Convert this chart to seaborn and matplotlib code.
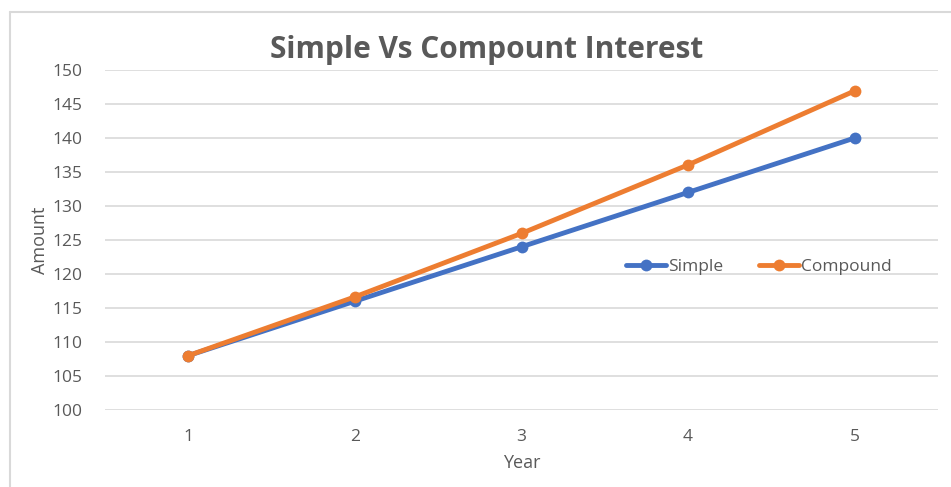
import matplotlib
matplotlib.use("Agg")
import matplotlib.pyplot as plt
import seaborn as sns
import pandas as pd
from matplotlib.lines import Line2D

years = [1, 2, 3, 4, 5]
simple = [108, 116, 124, 132, 140]
compound = [108, 116.64, 125.97, 136.05, 146.93]
series_names = ["Simple", "Compound"]
colors = ["#4472C4", "#ED7D31"]
yticks = [100, 105, 110, 115, 120, 125, 130, 135, 140, 145, 150]

sns.set_theme(style="white")
plt.rcParams['font.family'] = ['Open Sans', 'DejaVu Sans']

df = pd.DataFrame({
    "Year": years * 2,
    "Amount": simple + compound,
    "Series": ["Simple"] * len(years) + ["Compound"] * len(years),
})
df["pos"] = df["Year"] - 1

fig = plt.figure(figsize=(9.51, 4.87), dpi=100)
ax = fig.add_axes([105/951, 1 - 410/487, (938-105)/951, (410-70)/487])

sns.lineplot(data=df, x="pos", y="Amount", hue="Series", hue_order=series_names,
             palette=colors, marker="o", markersize=8.5, markeredgewidth=0,
             linewidth=3.5, ax=ax, legend=False)

ax.set_xlim(-0.5, len(years) - 0.5)
ax.set_ylim(100, 150)
ax.set_yticks(yticks)
ax.set_xticks(range(len(years)))
ax.set_xticklabels([str(y) for y in years])
ax.grid(axis="y", color="#D9D9D9", linewidth=1.2)
ax.set_axisbelow(True)
for s in ax.spines.values():
    s.set_visible(False)
ax.tick_params(axis="both", colors="#595959", labelsize=12.5, length=0)
ax.tick_params(axis="y", pad=16)
ax.tick_params(axis="x", pad=14)
ax.set_xlabel("Year", color="#595959", fontsize=13, labelpad=6)
ax.set_ylabel("Amount", color="#595959", fontsize=13, labelpad=3)

fig.text(487/951, 1 - 50/487, "Simple Vs Compount Interest", ha="center", va="center",
         fontsize=21.5, fontweight="bold", color="#595959")

handles = [Line2D([0], [0], color=c, lw=3.5, marker="o", markersize=8.5, markeredgewidth=0)
           for c in colors]
ax.legend(handles, series_names, loc="center", bbox_to_anchor=(759/951, 1 - 267/487),
          bbox_transform=fig.transFigure, ncol=2, frameon=False, fontsize=12.5,
          labelcolor="#595959", handlelength=2.3, handletextpad=0.1, columnspacing=2.1)

# outer border
fig.add_artist(Line2D([10/951, 10/951], [0, 1 - 12/487], transform=fig.transFigure,
                      color="#D9D9D9", lw=1.5))
fig.add_artist(Line2D([10/951, 1], [1 - 12/487, 1 - 12/487], transform=fig.transFigure,
                      color="#D9D9D9", lw=1.5))

fig.savefig("out.png", dpi=100)
